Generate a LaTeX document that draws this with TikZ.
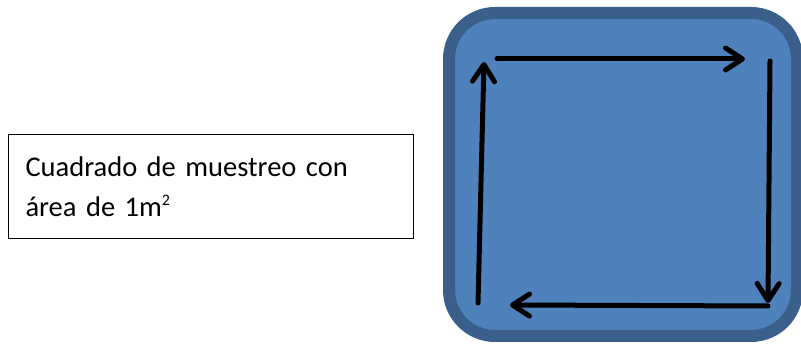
\documentclass[tikz,border=0pt]{standalone}
\usepackage{fontspec}
\setmainfont{Carlito}
\usetikzlibrary{arrows.meta}
\definecolor{boxfill}{HTML}{4F81BD}
\definecolor{boxedge}{HTML}{3A5F8B}
\tikzset{
  flow/.style={line width=5pt, line cap=round, draw=black,
    -{Straight Barb[length=17pt,width=22pt,line width=5pt,round]}},
  label/.style={draw=black, line width=1pt, fill=white, minimum width=405pt, minimum height=104pt,
    text width=370pt, align=left, font=\fontsize{28.5}{40}\selectfont, inner sep=0pt}
}
\begin{document}
\begin{tikzpicture}[x=1pt,y=-1pt]
\useasboundingbox (0,0) rectangle (801,344);
\fill[white] (0,0) rectangle (801,344);
% sampling square
\draw[fill=boxfill, draw=boxedge, line width=12pt, rounded corners=46pt] (449,13) rectangle (797,336);
% corner points
\coordinate (tl) at (497,59);
\coordinate (tr) at (745,59);
\coordinate (rt) at (770,61);
\coordinate (rb) at (768,303);
\coordinate (br) at (768,306);
\coordinate (bl) at (510,305);
\coordinate (lb) at (478,303);
\coordinate (lt) at (484,62);
\draw[flow] (tl) -- (tr);
\draw[flow] (rt) -- (rb);
\draw[flow] (br) -- (bl);
\draw[flow] (lb) -- (lt);
% label box
\node[label] (lbl) at (210.5,187) {Cuadrado de muestreo con\\área de 1m\raisebox{11pt}{\fontsize{16}{16}\selectfont 2}};
\end{tikzpicture}
\end{document}
